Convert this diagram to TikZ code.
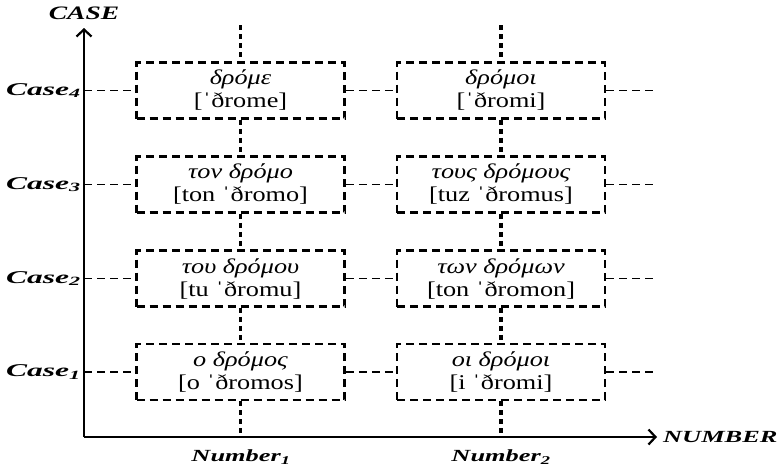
\documentclass[tikz,border=0pt]{standalone}
\usepackage{fontspec}
\setmainfont{Liberation Serif}[FakeStretch=1.25]
\newfontfamily\lblfont{Liberation Serif}[FakeStretch=1.55]
\newfontfamily\caselblfont{Liberation Serif}[FakeStretch=1.75]
\newfontfamily\bigtitlefont{Liberation Serif}[FakeStretch=1.45]
\usetikzlibrary{arrows.meta}
\begin{document}
\begin{tikzpicture}[x=1pt,y=-1pt,
 box/.style={draw, line width=2.8pt, dash pattern=on 8pt off 5pt, minimum width=208pt, minimum height=56pt, inner sep=0pt, align=center, font=\fontsize{21}{23}\selectfont},
 dotc/.style={line width=3.4pt, dash pattern=on 5pt off 4pt},
 hdash/.style={line width=1.6pt, dash pattern=on 8pt off 5pt},
 axisline/.style={line width=2.2pt},
 lbl/.style={font=\lblfont\bfseries\itshape\fontsize{17}{17}\selectfont, inner sep=0pt},
 caselbl/.style={font=\caselblfont\bfseries\itshape\fontsize{18}{18}\selectfont, inner sep=0pt},
 bigl/.style={font=\bigtitlefont\bfseries\itshape\fontsize{19}{19}\selectfont, inner sep=0pt}]
\useasboundingbox (0,0) rectangle (778,469);
% boxes
\node[box] (a4) at (240.5,90.5) {{\itshape δρόμε}\\{[ˈðrome]}};
\node[box] (b4) at (501,90.5) {{\itshape δρόμοι}\\{[ˈðromi]}};
\node[box] (a3) at (240.5,184.5) {{\itshape τον δρόμο}\\{[ton ˈðromo]}};
\node[box] (b3) at (501,184.5) {{\itshape τους δρόμους}\\{[tuz ˈðromus]}};
\node[box] (a2) at (240.5,278.5) {{\itshape του δρόμου}\\{[tu ˈðromu]}};
\node[box] (b2) at (501,278.5) {{\itshape των δρόμων}\\{[ton ˈðromon]}};
\node[box] (a1) at (240.5,372) {{\itshape ο δρόμος}\\{[o ˈðromos]}};
\node[box] (b1) at (501,372) {{\itshape οι δρόμοι}\\{[i ˈðromi]}};
% coordinates
\coordinate (O) at (84,437);
\coordinate (ytop) at (84,28);
\coordinate (xend) at (657,437);
\coordinate (ta) at (240.5,25);
\coordinate (tb) at (501,25);
\coordinate (ba) at (240.5,437);
\coordinate (bb) at (501,437);
\foreach \r/\y in {4/90.5,3/184.5,2/278.5,1/372}{
  \coordinate (l\r) at (84,\y);
  \coordinate (r\r) at (655,\y);
}
% axes
\draw[axisline, -{Straight Barb[length=7pt,width=15pt]}] (O) -- (ytop);
\draw[axisline, -{Straight Barb[length=7pt,width=15pt]}] (O) -- (xend);
% dotted verticals
\draw[dotc] (ta) -- (a4.north);
\draw[dotc] (tb) -- (b4.north);
\draw[dotc] (a4.south) -- (a3.north);
\draw[dotc] (a3.south) -- (a2.north);
\draw[dotc] (a2.south) -- (a1.north);
\draw[dotc] (a1.south) -- (ba);
\draw[dotc] (b4.south) -- (b3.north);
\draw[dotc] (b3.south) -- (b2.north);
\draw[dotc] (b2.south) -- (b1.north);
\draw[dotc] (b1.south) -- (bb);
% horizontal dashed
\foreach \r in {4,3,2,1}{
  \draw[hdash] (l\r) -- (a\r.west);
  \draw[hdash] (a\r.east) -- (b\r.west);
  \draw[hdash] (b\r.east) -- (r\r);
}
% labels
\node[bigl] (caseT) at (84,13) {CASE};
\node[lbl, anchor=west] (numT) at (663,437) {NUMBER};
\node[lbl] (n1) at (241,457) {Number\textsubscript{1}};
\node[lbl] (n2) at (501,457) {Number\textsubscript{2}};
\node[caselbl, anchor=west] (c4) at (6,90.5) {Case\textsubscript{4}};
\node[caselbl, anchor=west] (c3) at (6,184.5) {Case\textsubscript{3}};
\node[caselbl, anchor=west] (c2) at (6,278.5) {Case\textsubscript{2}};
\node[caselbl, anchor=west] (c1) at (6,372) {Case\textsubscript{1}};
\end{tikzpicture}
\end{document}
